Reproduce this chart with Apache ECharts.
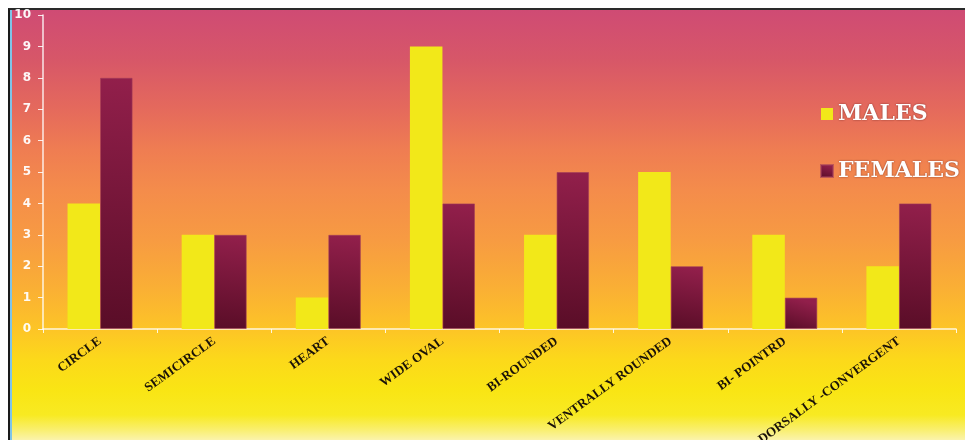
<!DOCTYPE html>
<html>
<head>
<meta charset="utf-8">
<script src="https://cdn.jsdelivr.net/npm/echarts@6/dist/echarts.min.js"></script>
<style>
  html, body { margin: 0; padding: 0; background: #fff; }
  #wrap { position: relative; width: 965px; height: 440px; overflow: hidden; background: #fff; }
  #bg {
    position: absolute; left: 8px; top: 8px; right: 0; bottom: 0;
    border-left: 2px solid #1a1a1a; border-top: 2px solid #2a2a2a;
    box-shadow: inset 2px 0 0 #7fc4e8;
    background: linear-gradient(to bottom,
      #cf4b74 0px, #d75768 50px, #e56a5c 100px, #ef7d52 140px, #f48c4b 180px,
      #f79b42 230px, #fab034 280px, #fdc526 320px, #fcd91a 350px, #f9e514 380px,
      #f8ea22 405px, #f9ef70 420px, #fbf4b8 432px);
  }
  #chart { position: absolute; left: 0; top: 0; width: 965px; height: 440px; }
</style>
</head>
<body>
<div id="wrap"><div id="bg"></div><div id="chart"></div></div>
<script>
const categories = ['CIRCLE', 'SEMICIRCLE', 'HEART', 'WIDE OVAL', 'BI-ROUNDED', 'VENTRALLY ROUNDED', 'BI- POINTRD', 'DORSALLY -CONVERGENT'];
const males = [4, 3, 1, 9, 3, 5, 3, 2];
const females = [8, 3, 3, 4, 5, 2, 1, 4];
const yTicks = [0, 1, 2, 3, 4, 5, 6, 7, 8, 9, 10];

const chart = echarts.init(document.getElementById('chart'), null, { renderer: 'canvas' });
chart.setOption({
  backgroundColor: 'transparent',
  animation: false,
  grid: { left: 43, right: 9, top: 15, bottom: 111, containLabel: false, outerBoundsMode: 'none' },
  legend: {
    orient: 'vertical',
    left: 815,
    top: 98,
    itemWidth: 12,
    itemHeight: 12,
    itemGap: 35,
    icon: 'rect',
    data: ['MALES', 'FEMALES'],
    textStyle: {
      color: '#ffffff',
      fontFamily: 'DejaVu Serif',
      fontWeight: 'bold',
      fontSize: 22,
      textShadowColor: 'rgba(80,20,20,0.7)',
      textShadowBlur: 2
    }
  },
  xAxis: {
    type: 'category',
    data: categories,
    axisLine: { lineStyle: { color: 'rgba(255,255,255,0.85)', width: 1.5 } },
    axisTick: { show: true, length: 4, alignWithLabel: false, lineStyle: { color: 'rgba(255,255,255,0.85)' } },
    axisLabel: {
      interval: 0,
      rotate: 36,
      margin: 11,
      color: '#1a1208',
      fontFamily: 'Liberation Serif',
      fontWeight: 'bold',
      fontSize: 13,
      hideOverlap: false
    },
    splitLine: { show: false }
  },
  yAxis: {
    type: 'value',
    min: yTicks[0],
    max: yTicks[yTicks.length - 1],
    interval: 1,
    axisLine: { show: true, lineStyle: { color: 'rgba(255,255,255,0.85)', width: 1.5 } },
    axisTick: { show: true, length: 5, lineStyle: { color: 'rgba(255,255,255,0.85)' } },
    axisLabel: {
      color: 'rgba(255,255,255,0.95)',
      fontFamily: 'DejaVu Sans',
      fontWeight: 'bold',
      fontSize: 12,
      margin: 12
    },
    splitLine: { show: false }
  },
  series: [
    {
      name: 'MALES',
      type: 'bar',
      data: males,
      barGap: '0%',
      barCategoryGap: '43%',
      itemStyle: { color: '#f2e819' }
    },
    {
      name: 'FEMALES',
      type: 'bar',
      data: females,
      barGap: '0%',
      barCategoryGap: '43%',
      itemStyle: {
        color: new echarts.graphic.LinearGradient(0.3, 0, 0, 1, [
          { offset: 0, color: '#921f4b' },
          { offset: 1, color: '#590d27' }
        ]),
        borderColor: 'rgba(160,60,90,0.6)',
        borderWidth: 1
      }
    }
  ]
});
</script>
</body>
</html>
